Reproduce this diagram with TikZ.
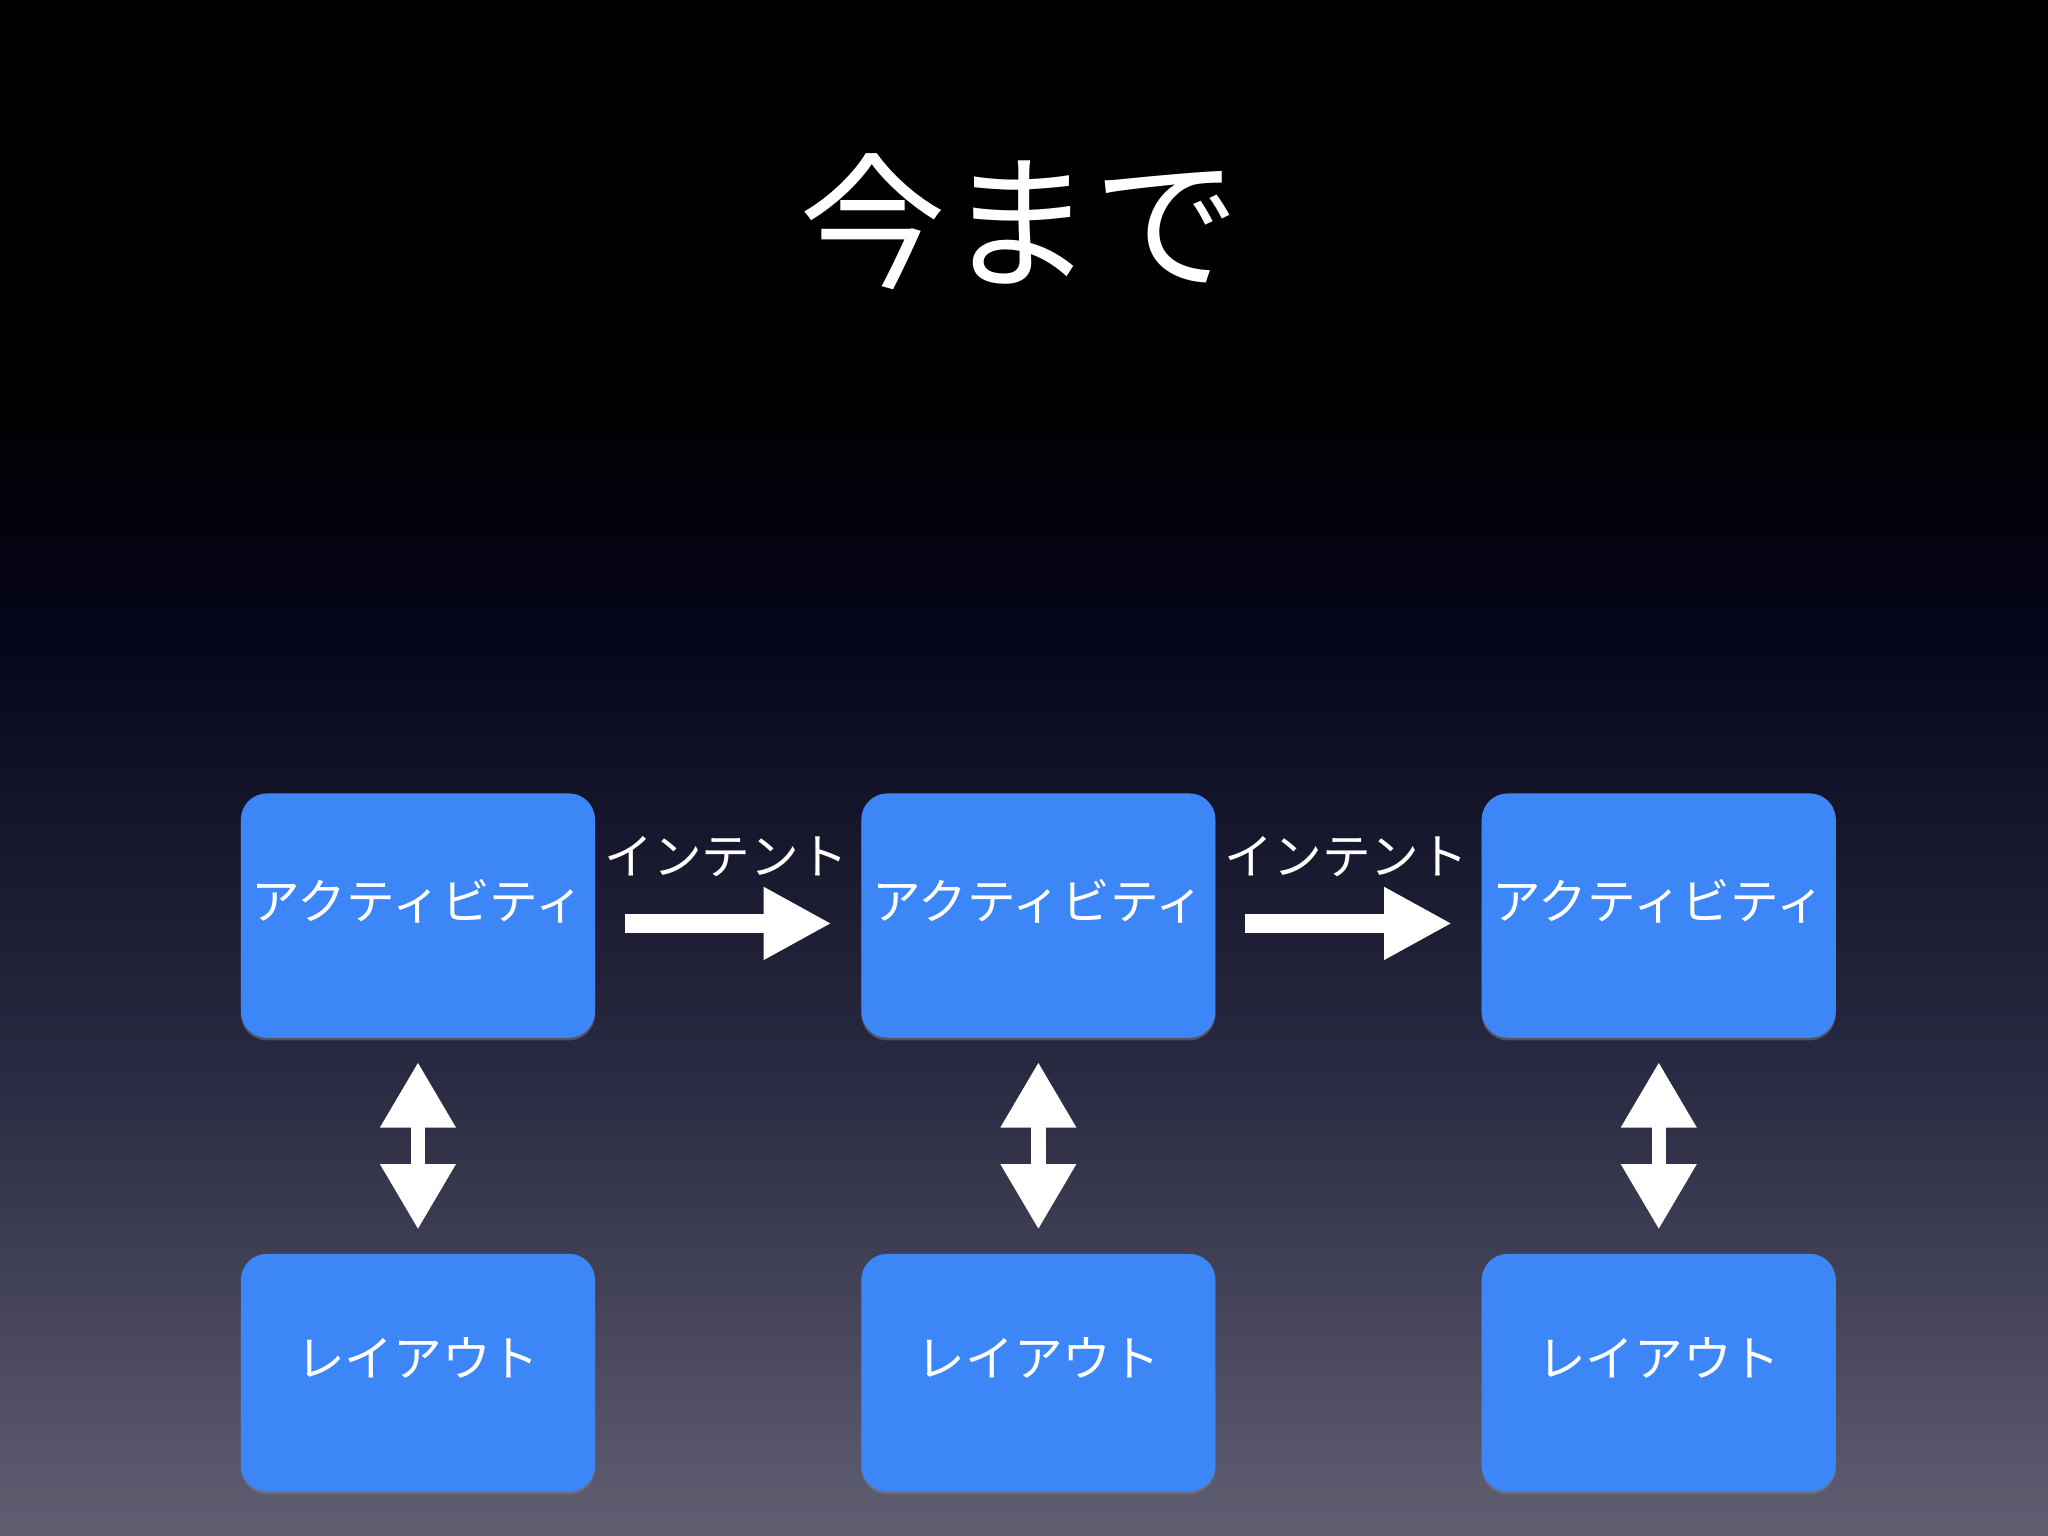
\documentclass[tikz,border=0pt]{standalone}
\usepackage{fontspec}
\setmainfont{Noto Sans CJK JP}
\usetikzlibrary{arrows.meta,shadows}
\definecolor{boxblue}{HTML}{3D86F7}
\definecolor{bgbot}{HTML}{605F72}
\definecolor{bgmid}{HTML}{2A2A42}
\definecolor{bgup}{HTML}{05051A}
\tikzset{
 box/.style={fill=boxblue,rounded corners=0.2cm,minimum width=2.71cm,minimum height=1.87cm,draw=none,
   drop shadow={shadow xshift=0pt,shadow yshift=-0.02cm,opacity=0.5}},
 lbl/.style={text=white,font=\fontsize{10.6}{12}\selectfont},
 fwd/.style={white,line width=0.14cm,-{Triangle[length=0.52cm,width=0.52cm]},shorten <=0.22cm,shorten >=0.22cm},
 dbl/.style={white,line width=0.11cm,{Triangle[length=0.5cm,width=0.55cm]}-{Triangle[length=0.5cm,width=0.55cm]},shorten <=0.18cm,shorten >=0.18cm}
}
\begin{document}
\begin{tikzpicture}[x=0.01cm,y=-0.01cm]
\useasboundingbox (0,0) rectangle (1568,1176);
\fill[black] (0,0) rectangle (1568,300);
\shade[top color=black,bottom color=bgup] (0,299) rectangle (1568,480);
\shade[top color=bgup,bottom color=bgbot,middle color=bgmid] (0,479) rectangle (1568,1176);
\node[text=white,font=\fontsize{32}{36}\selectfont] (title) at (781,170) {今まで};
\foreach \i/\x in {1/320,2/795,3/1270}{
  \node[box] (a\i) at (\x,701) {};
  \node[lbl] (at\i) at (\x,690) {アクティビティ};
  \node[box,minimum height=1.82cm] (l\i) at (\x,1051) {};
  \node[lbl] (lt\i) at (\x,1040) {レイアウト};
  \draw[dbl] (a\i.south) -- (l\i.north);
}
\node[lbl] (i1) at (556,656) {インテント};
\node[lbl] (i2) at (1031,656) {インテント};
\draw[fwd] ([yshift=-0.06cm]a1.east) -- ([yshift=-0.06cm]a2.west);
\draw[fwd] ([yshift=-0.06cm]a2.east) -- ([yshift=-0.06cm]a3.west);
\end{tikzpicture}
\end{document}
